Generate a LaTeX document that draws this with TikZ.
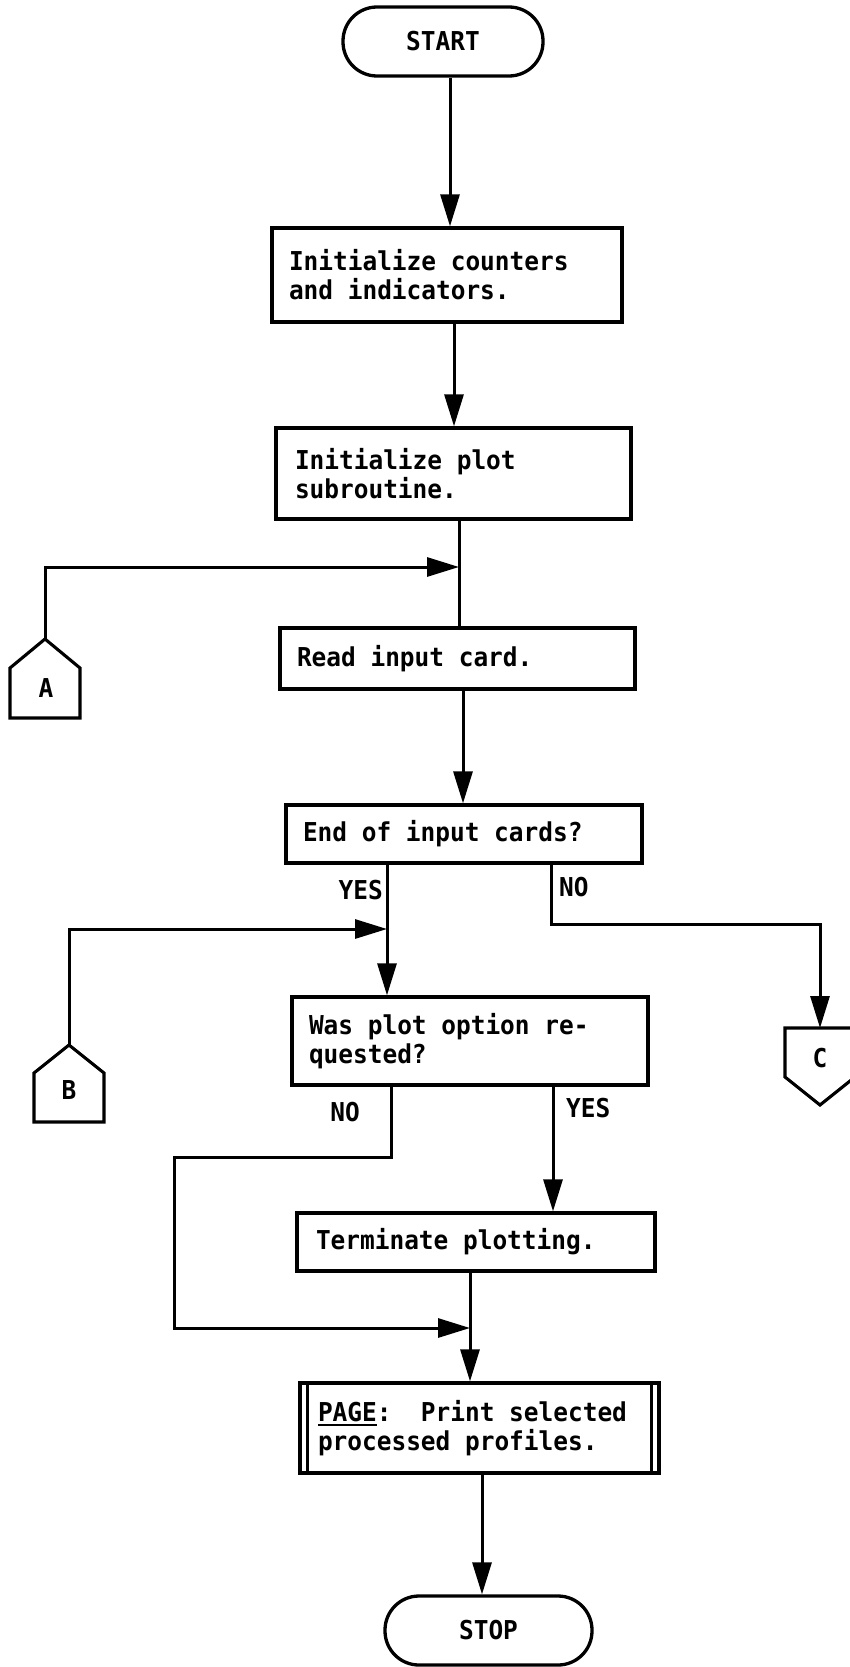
\documentclass[tikz,border=0pt]{standalone}
\usepackage{fontspec}
\newfontfamily\flowfont{DejaVu Sans Mono}[FakeStretch=0.94]
\usetikzlibrary{arrows.meta}

% text face of the chart
\newcommand\flowfontsel{\flowfont\bfseries\fontsize{26}{29}\selectfont}
% word spaces as wide as one character cell
\newcommand\flowspaces{\spaceskip 14.7pt\xspaceskip 14.7pt\relax}

% underline drawn as a rule under a word
\newcommand\ulword[1]{\setbox0=\hbox{#1}\rlap{\rule[-5pt]{\wd0}{2.6pt}}\box0}

\tikzset{
  flowtext/.style={font=\flowfontsel, execute at begin node=\flowspaces},
  procbox/.style={flowtext, draw, line width=3.3pt, align=left,
                  inner xsep=17pt, inner ysep=0pt},
  terminal/.style={flowtext, draw, line width=3.3pt, rounded corners=34pt,
                   inner sep=0pt, minimum height=69pt},
  flowline/.style={line width=3pt},
  flowarrow/.style={flowline, -{Triangle[length=32pt,width=19pt]}},
  connsym/.style={line width=3.1pt, line join=miter},
  branch/.style={flowtext, inner sep=0pt},
}

\begin{document}
\begin{tikzpicture}[x=1pt, y=-1pt]
  \useasboundingbox (0,0) rectangle (849,1667);
  \fill[white] (0,0) rectangle (849,1667);

  % terminals
  \node[terminal, minimum width=200pt] (start) at (443,41.5) {START};
  \node[terminal, minimum width=207pt] (stop) at (488.5,1630.5) {STOP};

  % process boxes
  \node[procbox, minimum width=350pt, minimum height=94pt, text width=316pt]
    (init) at (447,275) {Initialize counters\\and indicators.};
  \node[procbox, minimum width=355pt, minimum height=91pt, text width=317pt, inner xsep=19pt]
    (plotinit) at (453.5,473.5) {Initialize plot\\subroutine.};
  \node[procbox, minimum width=355pt, minimum height=61pt, text width=321pt]
    (read) at (457.5,658.5) {Read input card.};
  \node[procbox, minimum width=356pt, minimum height=58pt, text width=322pt]
    (endq) at (464,834) {End of input cards?};
  \node[procbox, minimum width=356pt, minimum height=88pt, text width=322pt]
    (plotq) at (470,1041) {Was plot option re-\\quested?};
  \node[procbox, minimum width=358pt, minimum height=58pt, text width=320pt, inner xsep=19pt]
    (term) at (476,1242) {Terminate plotting.};
  \node[procbox, minimum width=359pt, minimum height=90pt, text width=323pt, inner xsep=18pt]
    (page) at (479.5,1428) {\ulword{PAGE}:\ \ Print selected\\processed profiles.};
  \draw[line width=2.6pt] ([xshift=9pt]page.north west) -- ([xshift=9pt]page.south west);
  \draw[line width=2.6pt] ([xshift=-9pt]page.north east) -- ([xshift=-9pt]page.south east);

  % off-page connectors
  \draw[connsym] (10,718) -- (10,668) -- (45,639) -- (80,668) -- (80,718) -- cycle;
  \coordinate (Atop) at (45,639);
  \node[branch] (A) at (46,688) {A};

  \draw[connsym] (34,1122) -- (34,1073) -- (69,1045) -- (104,1073) -- (104,1122) -- cycle;
  \coordinate (Btop) at (69,1045);
  \node[branch] (B) at (69,1090) {B};

  \draw[connsym] (785,1028) -- (855,1028) -- (855,1077) -- (820,1105) -- (785,1077) -- cycle;
  \coordinate (Ctop) at (820,1028);
  \node[branch] (C) at (820,1058) {C};

  % column positions and junctions
  \coordinate (c1) at (450,0);
  \coordinate (c2) at (454,0);
  \coordinate (jA) at (459,567);
  \coordinate (c4) at (463,0);
  \coordinate (jB) at (387,929);
  \coordinate (noA) at (551,924);
  \coordinate (noB) at (391,1157);
  \coordinate (loopL) at (174,1157);
  \coordinate (yesB) at (553,0);
  \coordinate (jC) at (470,1328);
  \coordinate (c8) at (482,0);

  % connectors
  \draw[flowarrow] (start.south -| c1) -- (init.north -| c1);
  \draw[flowarrow] (init.south -| c2) -- (plotinit.north -| c2);
  \draw[flowline] (plotinit.south -| jA) -- (read.north -| jA);
  \draw[flowarrow] (Atop) |- (jA);
  \draw[flowarrow] (read.south -| c4) -- (endq.north -| c4);

  \draw[flowarrow] (endq.south -| jB) -- (plotq.north -| jB);
  \draw[flowarrow] (Btop) |- (jB);
  \draw[flowarrow] (endq.south -| noA) -- (noA) -| (Ctop);

  \draw[flowarrow] (plotq.south -| noB) -- (noB) -- (loopL) |- (jC);
  \draw[flowarrow] (plotq.south -| yesB) -- (term.north -| yesB);
  \draw[flowarrow] (term.south -| jC) -- (page.north -| jC);
  \draw[flowarrow] (page.south -| c8) -- (stop.north -| c8);

  % branch labels
  \node[branch, anchor=east] (yes1) at (383,890) {YES};
  \node[branch, anchor=west] (no1) at (559,887) {NO};
  \node[branch] (no2) at (345,1112) {NO};
  \node[branch, anchor=west] (yes2) at (566,1108) {YES};
\end{tikzpicture}
\end{document}
